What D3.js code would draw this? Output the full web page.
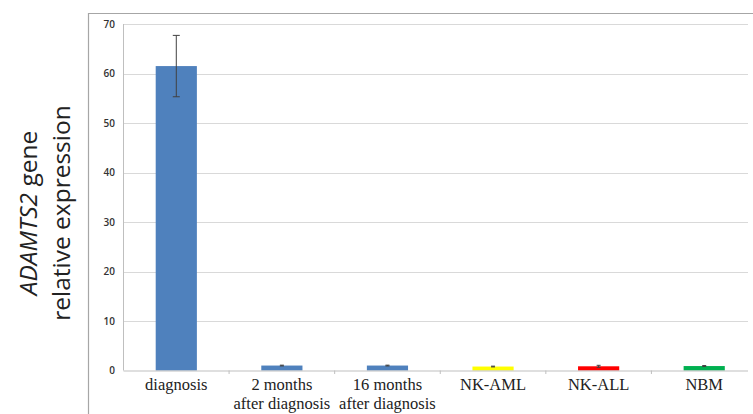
<!DOCTYPE html>
<html>
<head>
<meta charset="utf-8">
<script src="https://cdn.jsdelivr.net/npm/d3@7"></script>
<style>
body{margin:0;background:#fff;}
svg{display:block;}
</style>
</head>
<body>
<svg id="chart" width="753" height="414"></svg>
<script>
const categories = [["diagnosis"], ["2 months","after diagnosis"], ["16 months","after diagnosis"], ["NK-AML"], ["NK-ALL"], ["NBM"]];
const values = [61.5, 1.0, 1.0, 0.8, 0.85, 0.9];
const errors = [6.2, 0.08, 0.08, 0.08, 0.2, 0.1];
const barColors = ["#4F81BD","#4F81BD","#4F81BD","#FFFF00","#FF0000","#00B050"];
const yTicks = [0,10,20,30,40,50,60,70];

const svg = d3.select("#chart");
const keys = categories.map((c,i)=>"c"+i);
const x = d3.scaleBand().domain(keys).range([123.5, 757]).paddingInner(0.61).paddingOuter(0.305);
const y = d3.scaleLinear().domain([0,70]).range([370.5, 24]);
const plotRight = 748;

// outer frame
svg.append("line").attr("x1",88).attr("x2",753).attr("y1",13.5).attr("y2",13.5).attr("stroke","#a6a6a6").attr("stroke-width",1.2);
svg.append("line").attr("x1",88.5).attr("x2",88.5).attr("y1",13).attr("y2",414).attr("stroke","#a6a6a6").attr("stroke-width",1.2);

// gridlines
svg.append("g").selectAll("line").data(yTicks.filter(d=>d>0)).join("line")
  .attr("x1",123.5).attr("x2",plotRight).attr("y1",d=>Math.round(y(d))+0.5).attr("y2",d=>Math.round(y(d))+0.5)
  .attr("stroke","#d9d9d9").attr("stroke-width",1);

// y axis line
svg.append("line").attr("x1",123.5).attr("x2",123.5).attr("y1",y(70)).attr("y2",y(0)).attr("stroke","#bfbfbf");

// y tick labels
svg.append("g").selectAll("text").data(yTicks).join("text")
  .attr("x",115).attr("y",d=>y(d)+3.5).attr("text-anchor","end")
  .attr("font-family","Open Sans, sans-serif").attr("font-size",10).attr("font-weight",600).attr("fill","#333")
  .text(d=>d);

// bars
svg.append("g").selectAll("rect").data(values).join("rect")
  .attr("x",(d,i)=>x(keys[i])).attr("width",x.bandwidth())
  .attr("y",d=>y(d)).attr("height",d=>y(0)-y(d))
  .attr("fill",(d,i)=>barColors[i]);

// x axis baseline
svg.append("line").attr("x1",123.5).attr("x2",plotRight).attr("y1",y(0)+0.5).attr("y2",y(0)+0.5).attr("stroke","#bfbfbf");
// x ticks at boundaries
const step = x.step();
const bounds = d3.range(1,6).map(i=>x.range()[0]+i*step);
svg.append("g").selectAll("line").data(bounds).join("line")
  .attr("x1",d=>d).attr("x2",d=>d).attr("y1",y(0)).attr("y2",y(0)+3.5).attr("stroke","#bfbfbf");

// error bars
const eg = svg.append("g").attr("stroke","#404040").attr("stroke-width",1);
values.forEach((v,i)=>{
  const cx = x(keys[i]) + x.bandwidth()/2;
  const cap = i===0 ? 3.5 : 2;
  eg.append("line").attr("x1",cx).attr("x2",cx).attr("y1",y(v+errors[i])).attr("y2",y(v-errors[i]));
  eg.append("line").attr("x1",cx-cap).attr("x2",cx+cap).attr("y1",y(v+errors[i])).attr("y2",y(v+errors[i]));
  eg.append("line").attr("x1",cx-cap).attr("x2",cx+cap).attr("y1",y(v-errors[i])).attr("y2",y(v-errors[i]));
});

// x labels
const lab = svg.append("g").attr("font-family","Liberation Serif, Times New Roman, serif").attr("font-size",16.5).attr("fill","#222").attr("text-anchor","middle");
categories.forEach((lines,i)=>{
  const cx = x(keys[i]) + x.bandwidth()/2;
  lines.forEach((s,j)=>{
    lab.append("text").attr("x",cx).attr("y",390 + j*18.5).text(s);
  });
});

// y axis title
const yt = svg.append("text").attr("transform","translate(0,213) rotate(-90)")
  .attr("font-family","Open Sans, sans-serif").attr("font-size",24.5).attr("fill","#222").attr("text-anchor","middle");
const t1 = yt.append("tspan").attr("x",0).attr("y",37);
t1.append("tspan").attr("font-style","italic").text("ADAMTS2");
t1.append("tspan").text(" gene");
yt.append("tspan").attr("x",0).attr("y",70).text("relative expression");
</script>
</body>
</html>
